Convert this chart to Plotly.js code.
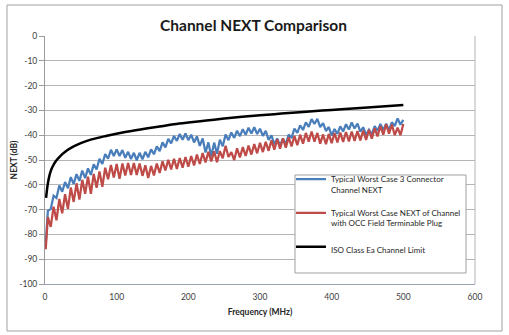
<!DOCTYPE html>
<html>
<head>
<meta charset="utf-8">
<script src="https://cdn.plot.ly/plotly-3.0.1.min.js"></script>
<style>html,body{margin:0;padding:0;background:#fff;}#chart{width:509px;height:335px;}</style>
</head>
<body>
<div id="chart"></div>
<script>
// Frequency points (MHz) shared by the two measured curves
const freq = [1,4,8,12,16,20,24,28,32,36,40,44,48,52,56,60,64,68,72,76,80,84,88,92,96,100,
  104,108,112,116,120,124,128,132,136,140,144,148,152,156,160,164,168,172,176,180,184,188,192,196,200,
  204,208,212,216,220,224,228,232,236,240,244,248,252,256,260,264,268,272,276,280,284,288,292,296,300,
  304,308,312,316,320,324,328,332,336,340,344,348,352,356,360,364,368,372,376,380,384,388,392,396,400,
  404,408,412,416,420,424,428,432,436,440,444,448,452,456,460,464,468,472,476,480,484,488,492,496,500];

// Typical Worst Case 3 Connector Channel NEXT (dB)
const blueNext = [-84,-70.5,-69.8,-64.4,-65.3,-60.3,-62.8,-58.9,-61.4,-56.9,-59.7,-55.7,-58.4,-54.3,-57.3,-53.4,-56.0,-51.7,-53.8,-49.5,-51.6,-47.6,-49.5,-45.9,-48.4,-45.7,
  -48.4,-46.0,-49.1,-46.7,-49.6,-47.1,-50.1,-47.1,-49.7,-46.7,-48.9,-45.7,-47.7,-44.5,-46.4,-42.9,-44.9,-41.5,-43.3,-40.3,-42.3,-39.5,-41.8,-39.3,-42.0,
  -39.8,-42.9,-40.5,-44.3,-41.3,-47.0,-42.9,-48.6,-43.0,-47.5,-41.8,-44.5,-39.7,-42.0,-38.9,-41.1,-38.2,-40.4,-37.6,-39.8,-37.0,-39.3,-36.8,-39.5,-37.4,
  -40.3,-38.2,-41.9,-40.1,-43.7,-41.3,-44.1,-41.3,-43.7,-39.7,-41.2,-37.3,-39.1,-36.0,-37.9,-34.8,-36.6,-33.5,-35.5,-33.4,-36.7,-35.1,-38.3,-36.7,-40.1,
  -37.5,-39.5,-36.4,-38.5,-35.6,-37.7,-34.9,-37.3,-35.3,-38.6,-36.8,-39.9,-37.8,-39.7,-36.3,-38.2,-35.5,-37.9,-35.4,-37.9,-34.8,-36.3,-33.2,-35.8,-33.8];

// Typical Worst Case NEXT of Channel with OCC Field Terminable Plug (dB)
const redNext = [-86,-73,-77,-68.8,-74.3,-65.7,-71.5,-63.8,-69.7,-61.1,-66.9,-59.4,-66.0,-58.0,-63.6,-56.7,-63.6,-55.6,-61.2,-54.6,-60.8,-53.1,-57.8,-52.0,-57.1,-51.6,
  -57.6,-51.4,-56.2,-51.2,-56.0,-51.2,-56.0,-51.4,-56.4,-52.1,-57.3,-52.4,-56.2,-51.4,-55.2,-50.5,-54.2,-49.9,-53.8,-49.5,-53.6,-49.2,-53.1,-48.8,-52.7,
  -48.4,-52.2,-47.8,-51.6,-47.2,-51.0,-46.7,-50.6,-46.5,-50.9,-46.4,-49.3,-44.3,-48.8,-46.8,-50.0,-45.3,-49.0,-44.8,-48.4,-44.2,-47.8,-43.6,-47.3,-43.1,
  -46.8,-42.7,-46.3,-42.1,-45.8,-41.7,-45.4,-41.3,-45.0,-40.9,-44.5,-40.3,-44.0,-39.8,-43.4,-39.1,-42.6,-38.5,-42.6,-39.1,-43.4,-39.7,-43.6,-39.5,-43.2,
  -39.1,-42.9,-38.9,-42.7,-38.7,-42.5,-38.5,-42.3,-38.3,-42.1,-38.1,-41.9,-37.8,-41.4,-37.2,-40.5,-36.3,-39.8,-35.6,-39.4,-35.7,-40.0,-37.0,-40.0,-35.5];

// ISO Class Ea Channel Limit (dB)
const isoFreq = [1.5,2,3,4,6,8,10,15,20,30,40,50,65,85,110,135,160,180,200,225,250,275,300,330,360,400,440,470,500];
const isoLimit = [-65.3,-64,-61.5,-59.5,-56.5,-54.5,-53,-50.5,-48.8,-46.3,-44.5,-43.2,-41.7,-40.3,-38.8,-37.6,-36.5,-35.6,-34.9,-34.1,-33.3,-32.6,-32.0,-31.3,-30.6,-29.8,-29.0,-28.4,-27.8];

const seriesNames = ['Typical Worst Case 3 Connector<br>Channel NEXT',
                     'Typical Worst Case NEXT of Channel<br>with OCC Field Terminable Plug',
                     'ISO Class Ea Channel Limit'];
const xTicks = [0,100,200,300,400,500,600];
const yTicks = [0,-10,-20,-30,-40,-50,-60,-70,-80,-90,-100];

const FONT = 'Lato, "Open Sans", sans-serif';

const traces = [
  {x: freq, y: blueNext, type:'scatter', mode:'lines', name: seriesNames[0], legendgroup:'a',
   line:{color:'#4a7ebb', width:2.25}},
  {x: freq, y: redNext, type:'scatter', mode:'lines', name: seriesNames[1], legendgroup:'b',
   line:{color:'#be4b48', width:2.25}},
  {x: isoFreq, y: isoLimit, type:'scatter', mode:'lines', name: seriesNames[2], legendgroup:'c',
   line:{color:'#000000', width:2.5, shape:'spline'}}
];

const layout = {
  width:509, height:335,
  paper_bgcolor:'#ffffff', plot_bgcolor:'#ffffff',
  margin:{l:45, r:34, t:36, b:51},
  font:{family:FONT, color:'#404040', size:8.5},
  title:{text:'Channel NEXT Comparison', font:{family:FONT, size:15.5, weight:'bold', color:'#1a1a1a'},
         xref:'container', x:0.498, xanchor:'center', yref:'container', y:0.925, yanchor:'middle'},
  xaxis:{range:[0,600], tickvals:xTicks, ticktext:xTicks.map(String), showgrid:false, zeroline:false,
         showline:true, linecolor:'#9aa3b5', linewidth:1, ticks:'', ticklabelstandoff:5,
         tickfont:{size:8.5, color:'#404040'},
         title:{text:'Frequency (MHz)', font:{size:8.5, weight:'bold', color:'#262626'}, standoff:7}},
  xaxis2:{range:[0,600], overlaying:'x', side:'top', tickvals:[100,200,300,400,500], ticks:'inside',
          ticklen:4, tickcolor:'#9a9a9a', showticklabels:false, showgrid:false, zeroline:false,
          showline:true, linecolor:'#9a9a9a', linewidth:1},
  yaxis:{range:[-100,0], tickvals:yTicks, ticktext:yTicks.map(String), showgrid:true, gridcolor:'#b4b4b4',
         gridwidth:1, zeroline:false, showline:true, linecolor:'#9a9a9a', linewidth:1,
         ticks:'outside', ticklen:5, tickcolor:'#9a9a9a', ticklabelstandoff:0,
         tickfont:{size:8.5, color:'#404040'},
         title:{text:'NEXT (dB)', font:{size:8.5, weight:'bold', color:'#262626'}, standoff:0}},
  showlegend:true,
  legend:{x:0.572, xanchor:'left', y:0.470, yanchor:'top', bgcolor:'rgba(0,0,0,0)', borderwidth:0,
          font:{size:8, color:'#262626'}, valign:'top', tracegroupgap:10, traceorder:'grouped'},
  shapes:[
    // right border of plot area
    {type:'line', xref:'paper', yref:'paper', x0:1, x1:1, y0:0, y1:1, line:{color:'#b4b4b4', width:1}},
    // outer chart frame
    {type:'rect', xref:'paper', yref:'paper', x0:-0.0884, x1:1.0628, y0:-0.1895, y1:1.125,
     line:{color:'#a0a0a0', width:1}, fillcolor:'rgba(0,0,0,0)', layer:'below'},
    // legend box
    {type:'rect', xref:'paper', yref:'paper', x0:0.5814, x1:0.9791, y0:0.0444, y1:0.4395,
     line:{color:'#a0a0a0', width:1}, fillcolor:'#ffffff', layer:'above'}
  ]
};

Plotly.newPlot('chart', traces, layout, {displayModeBar:false, staticPlot:true});
</script>
</body>
</html>
